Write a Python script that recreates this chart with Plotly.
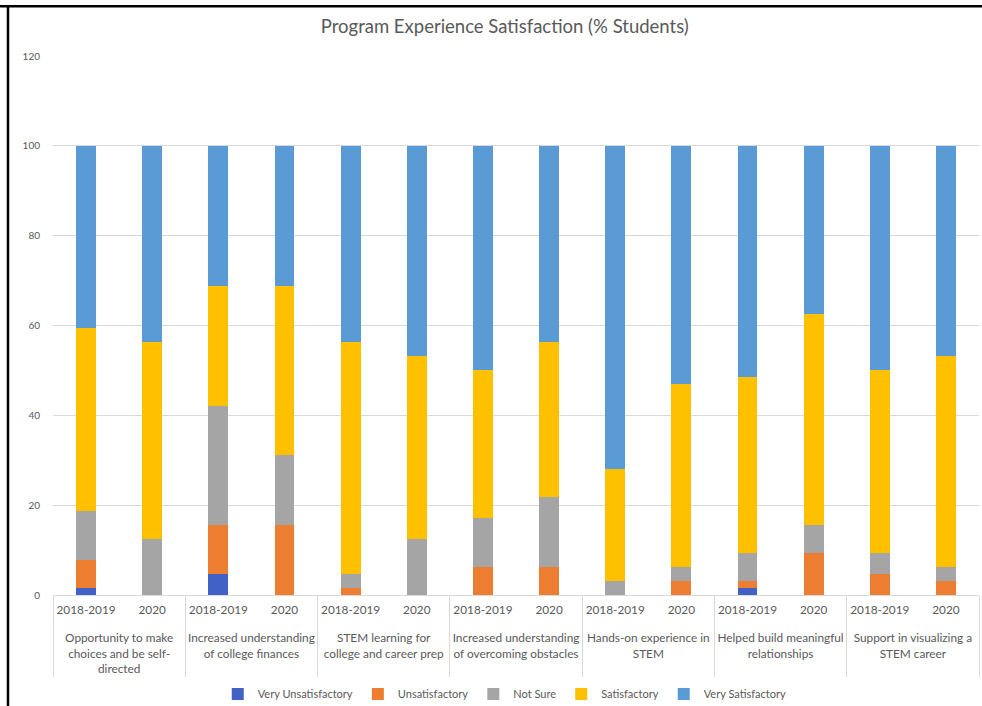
import plotly.graph_objects as go

# Survey items and cohorts
groups = [
    "Opportunity to make<br>choices and be self-<br>directed",
    "Increased understanding<br>of college finances",
    "STEM learning for<br>college and career prep",
    "Increased understanding<br>of overcoming obstacles",
    "Hands-on experience in<br>STEM",
    "Helped build meaningful<br>relationships",
    "Support in visualizing a<br>STEM career",
]
# blank second line leaves room between cohort and item labels
years = ["2018-2019<br> ", "2020<br> "]

# Percent of students per response level, one value per (item, cohort) bar
very_unsatisfactory = [1.56, 0, 4.69, 0, 0, 0, 0, 0, 0, 0, 1.56, 0, 0, 0]
unsatisfactory = [6.25, 0, 10.94, 15.63, 1.56, 0, 6.25, 6.25, 0, 3.13, 1.56, 9.38, 4.69, 3.13]
not_sure = [10.94, 12.5, 26.56, 15.63, 3.13, 12.5, 10.94, 15.63, 3.13, 3.13, 6.25, 6.25, 4.69, 3.13]
satisfactory = [40.63, 43.75, 26.56, 37.5, 51.56, 40.63, 32.81, 34.38, 25.0, 40.63, 39.06, 46.88, 40.63, 46.88]
very_satisfactory = [40.63, 43.75, 31.25, 31.25, 43.75, 46.88, 50.0, 43.75, 71.88, 53.13, 51.56, 37.5, 50.0, 46.88]

series = [
    ("Very Unsatisfactory", very_unsatisfactory, "#4161C6"),
    ("Unsatisfactory", unsatisfactory, "#ED7D31"),
    ("Not Sure", not_sure, "#A5A5A5"),
    ("Satisfactory", satisfactory, "#FFC000"),
    ("Very Satisfactory", very_satisfactory, "#5B9BD5"),
]

x_outer = [g for g in groups for _ in years]
x_inner = [y for _ in groups for y in years]

fig = go.Figure()
for name, vals, color in series:
    fig.add_trace(go.Bar(
        x=[x_outer, x_inner],
        y=vals,
        name=name,
        marker=dict(color=color, line=dict(width=0)),
    ))

text_color = "#595959"
fig.update_layout(
    barmode="stack",
    bargap=0.7,
    width=982,
    height=706,
    margin=dict(l=53, r=3, t=56, b=111),
    paper_bgcolor="white",
    plot_bgcolor="white",
    font=dict(family="Lato, Open Sans, sans-serif", size=11, color=text_color),
    title=dict(
        text="Program Experience Satisfaction (% Students)",
        x=0.514, xref="container", xanchor="center",
        y=0.962, yref="container", yanchor="middle",
        font=dict(size=18.5, color=text_color),
    ),
    legend=dict(
        orientation="h",
        x=0.514, xref="container", xanchor="center",
        y=0.017, yref="container", yanchor="middle",
        font=dict(size=11, color=text_color),
        itemwidth=30,
        traceorder="normal",
    ),
    yaxis=dict(
        range=[0, 120],
        dtick=20,
        showgrid=True,
        gridcolor="#D9D9D9",
        gridwidth=1,
        zeroline=False,
        showline=False,
        ticks="outside",
        ticklen=10,
        tickcolor="rgba(0,0,0,0)",
        tickfont=dict(size=10, color=text_color),
        automargin=False,
    ),
    xaxis=dict(
        type="multicategory",
        showline=True,
        linecolor="#D9D9D9",
        linewidth=1,
        showdividers=True,
        dividercolor="#D9D9D9",
        dividerwidth=1,
        tickfont=dict(size=11.8, color=text_color),
        tickangle=0,
        ticks="outside",
        ticklen=8,
        tickcolor="rgba(0,0,0,0)",
        ticklabelstandoff=4,
        automargin=False,
    ),
    shapes=[
        # frame lines along the top and left edges
        dict(type="line", xref="paper", yref="paper",
             x0=-0.06, x1=1.01, y0=1.0925, y1=1.0925,
             line=dict(color="black", width=2.5)),
        dict(type="line", xref="paper", yref="paper",
             x0=-0.0486, x1=-0.0486, y0=-0.25, y1=1.0925,
             line=dict(color="black", width=2.5)),
    ],
)

fig.write_html("out.html")
